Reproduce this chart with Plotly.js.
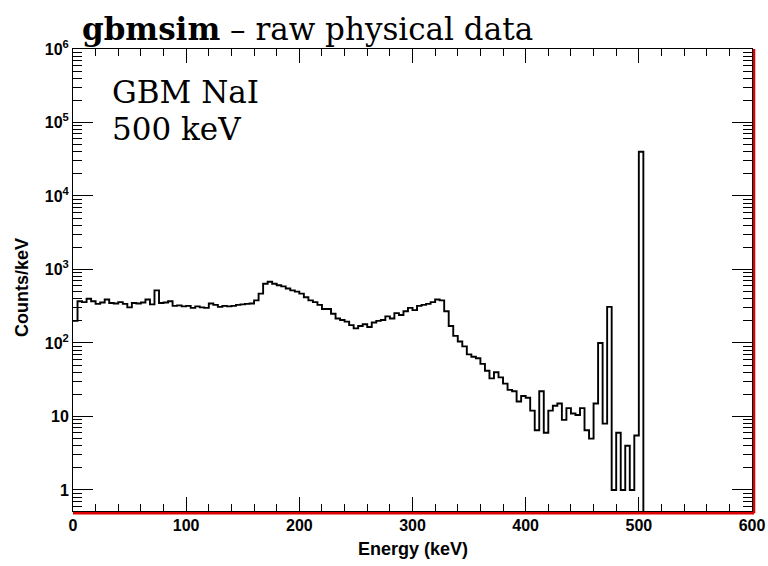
<!DOCTYPE html>
<html>
<head>
<meta charset="utf-8">
<script src="https://cdn.plot.ly/plotly-3.0.1.min.js"></script>
<style>html,body{margin:0;padding:0;background:#fff;}#chart{width:768px;height:566px;}</style>
</head>
<body>
<div id="chart"></div>
<script>
// ---- data ----
const binWidth = 4;          // keV per histogram bin
const energyStart = 0;       // keV, lower edge of first bin
const countsPerKeV = [
  200, 370, 360, 400, 370, 340, 355, 390, 350, 345,
  360, 340, 305, 350, 345, 355, 390, 335, 520, 350,
  355, 370, 320, 325, 315, 320, 300, 315, 305, 300,
  345, 330, 310, 320, 315, 320, 330, 335, 340, 345,
  380, 470, 640, 680, 640, 610, 590, 550, 520, 500,
  470, 420, 380, 360, 330, 290, 290, 250, 215, 205,
  195, 175, 158, 170, 180, 165, 190, 200, 205, 230,
  215, 255, 240, 270, 300, 280, 320, 330, 340, 360,
  390, 380, 270, 170, 125, 105, 90, 70, 65, 62,
  52, 42, 33, 40, 34, 28, 23, 22, 16, 19,
  18, 12, 6.5, 22, 6, 12, 14, 15, 9, 13,
  11, 10.5, 13, 6.5, 5, 15, 100, 8, 310, 1,
  6, 1, 4, 1, 5.5, 40000
];
const xTickVals = [0, 100, 200, 300, 400, 500, 600];
const xTickText = ["0", "100", "200", "300", "400", "500", "600"];
const yTickVals = [1, 10, 100, 1000, 10000, 100000, 1000000];
const yTickText = ["1", "10", "10<sup>2</sup>", "10<sup>3</sup>", "10<sup>4</sup>", "10<sup>5</sup>", "10<sup>6</sup>"];
const titleText = "<b>gbmsim</b> – raw physical data";
const labelLine1 = "GBM NaI";
const labelLine2 = "500 keV";
const xTitle = "Energy (keV)";
const yTitle = "Counts/keV";

// ---- build step histogram ----
const xs = [], ys = [];
for (let i = 0; i < countsPerKeV.length; i++) {
  xs.push(energyStart + i * binWidth);
  ys.push(countsPerKeV[i]);
}
const lastEdge = energyStart + countsPerKeV.length * binWidth;
xs.push(lastEdge); ys.push(countsPerKeV[countsPerKeV.length - 1]);
xs.push(lastEdge); ys.push(1e-3);   // drop to empty bins (off-scale)

const yMinor = [];
[0.6, 0.7, 0.8, 0.9].forEach(v => yMinor.push(v));
for (let d = 0; d < 6; d++) for (let k = 2; k <= 9; k++) yMinor.push(k * Math.pow(10, d));

const sansBold = {family: "Liberation Sans, Arial, sans-serif", size: 16, color: "#000", weight: "bold"};

const trace = {
  x: xs, y: ys, type: "scatter", mode: "lines",
  line: {shape: "hv", color: "#000", width: 1.9},
  hoverinfo: "skip", showlegend: false, cliponaxis: true
};

const layout = {
  width: 768, height: 566,
  margin: {l: 73, r: 16, t: 49, b: 55},
  paper_bgcolor: "#fff", plot_bgcolor: "#fff",
  showlegend: false,
  xaxis: {
    range: [0, 600], showgrid: false, zeroline: false,
    showline: true, linecolor: "#000", linewidth: 1, mirror: "ticks",
    ticks: "inside", ticklen: 14, tickwidth: 1, tickcolor: "#000",
    tickmode: "array", tickvals: xTickVals, ticktext: xTickText,
    tickfont: sansBold,
    minor: {dtick: 20, tick0: 0, ticks: "inside", ticklen: 7, tickwidth: 1, tickcolor: "#000", showgrid: false}
  },
  yaxis: {
    type: "log", range: [-0.286, 6], showgrid: false, zeroline: false,
    showline: true, linecolor: "#000", linewidth: 1, mirror: "ticks",
    ticks: "inside", ticklen: 20, tickwidth: 1, tickcolor: "#000",
    tickmode: "array", tickvals: yTickVals, ticktext: yTickText,
    tickfont: sansBold,
    minor: {tickmode: "array", tickvals: yMinor, ticks: "inside", ticklen: 9, tickwidth: 1, tickcolor: "#000", showgrid: false}
  },
  shapes: [
    {type: "line", xref: "paper", yref: "paper", x0: 0, x1: 1.003, y0: -0.005, y1: -0.005, line: {color: "#e00000", width: 2.5}, layer: "below"},
    {type: "line", xref: "paper", yref: "paper", x0: 1.003, x1: 1.003, y0: -0.005, y1: 1, line: {color: "#e00000", width: 2.5}, layer: "below"}
  ],
  annotations: [
    {text: titleText, xref: "paper", yref: "paper", x: 0.0103, y: (511 - 29) / 462, xanchor: "left", yanchor: "middle", showarrow: false,
     font: {family: "DejaVu Serif, serif", size: 31, color: "#000"}},
    {text: labelLine1, xref: "paper", yref: "paper", x: 0.0545, y: (511 - 92.5) / 462, xanchor: "left", yanchor: "middle", showarrow: false,
     font: {family: "DejaVu Serif, serif", size: 31, color: "#000"}},
    {text: labelLine2, xref: "paper", yref: "paper", x: 0.0545, y: (511 - 129) / 462, xanchor: "left", yanchor: "middle", showarrow: false,
     font: {family: "DejaVu Serif, serif", size: 31, color: "#000"}},
    {text: xTitle, xref: "paper", yref: "paper", x: 0.5, y: (511 - 549) / 462, xanchor: "center", yanchor: "middle", showarrow: false,
     font: {family: "Liberation Sans, Arial, sans-serif", size: 18, color: "#000", weight: "bold"}},
    {text: yTitle, xref: "paper", yref: "paper", x: (22 - 73) / 679, y: (511 - 288) / 462, xanchor: "center", yanchor: "middle", textangle: -90, showarrow: false,
     font: {family: "Liberation Sans, Arial, sans-serif", size: 18, color: "#000", weight: "bold"}}
  ]
};

Plotly.newPlot("chart", [trace], layout, {staticPlot: true, displayModeBar: false});
</script>
</body>
</html>
